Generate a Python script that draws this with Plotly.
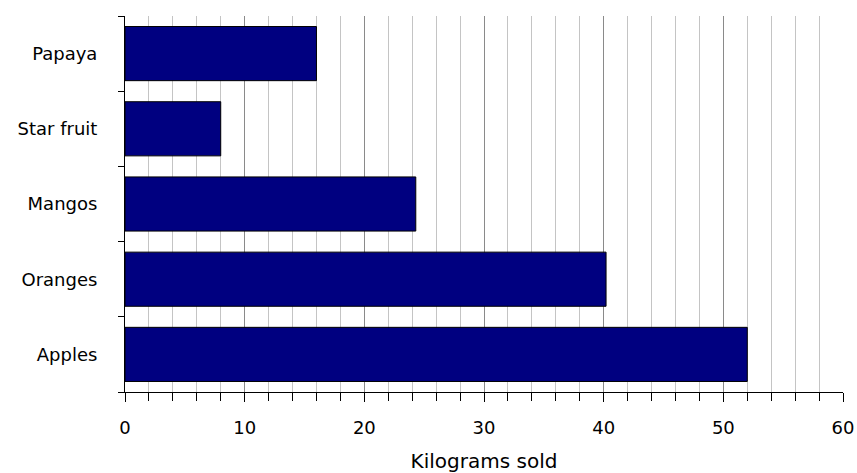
import plotly.graph_objects as go

categories = ["Apples", "Oranges", "Mangos", "Star fruit", "Papaya"]
kilograms = [52, 40.2, 24.3, 8, 16]
x_ticks = [0, 10, 20, 30, 40, 50, 60]

fig = go.Figure(go.Bar(
    x=kilograms, y=categories, orientation="h",
    marker=dict(color="#000080", line=dict(color="#000000", width=1)),
    width=0.72,
))

font = dict(family="DejaVu Sans, Verdana, sans-serif", size=18, color="#000000")

fig.update_layout(
    width=857, height=473,
    margin=dict(l=125, r=14, t=16, b=81, autoexpand=False),
    paper_bgcolor="white", plot_bgcolor="white",
    showlegend=False,
    font=font,
    xaxis=dict(
        range=[0, 60], tickvals=x_ticks, ticktext=[str(v) for v in x_ticks],
        showgrid=True, gridcolor="#8a8a8a", gridwidth=1,
        showline=True, linecolor="#000000", linewidth=1,
        ticks="outside", ticklen=9, tickcolor="#000000",
        minor=dict(dtick=2, showgrid=True, gridcolor="#c4c4c4", gridwidth=1,
                   ticks="outside", ticklen=8, tickcolor="#000000"),
        zeroline=False, automargin=False,
        title=dict(text="Kilograms sold", standoff=22, font=dict(size=20)),
        ticklabelstandoff=10,
    ),
    yaxis=dict(
        type="category", categoryorder="array", categoryarray=categories,
        showgrid=False, showline=True, linecolor="#000000", linewidth=1,
        ticks="outside", tickson="boundaries", ticklen=6, tickcolor="#000000",
        ticklabelstandoff=23, automargin=False,
        range=[-0.5, 4.5],
    ),
    bargap=0.28,
)

fig.write_html("out.html")
